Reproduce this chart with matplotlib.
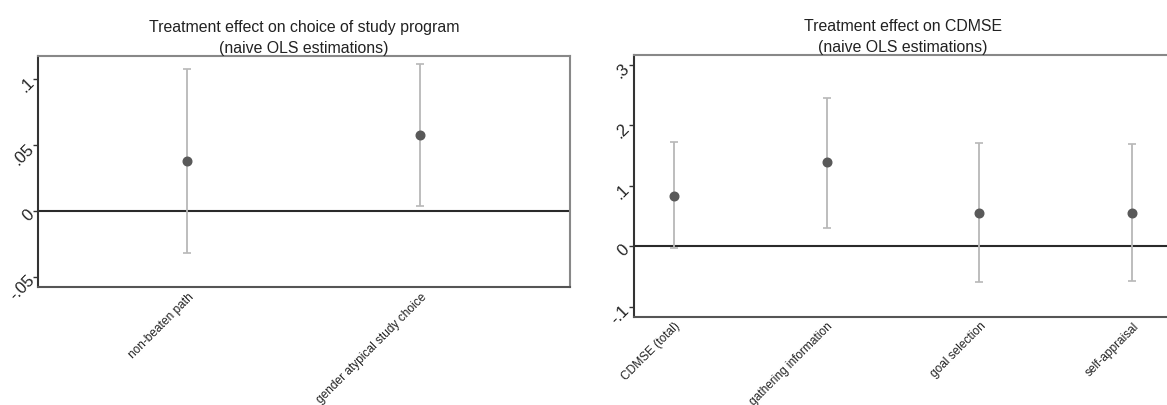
import numpy as np
import matplotlib
matplotlib.use("Agg")
import matplotlib.pyplot as plt

plt.rcParams['font.family'] = ['Liberation Sans', 'DejaVu Sans']

# study program outcomes
prog_labels = ["non-beaten path", "gender atypical study choice"]
prog_coef = [0.038, 0.058]
prog_lo = [-0.032, 0.0035]
prog_hi = [0.108, 0.112]

# CDMSE outcomes
cdmse_labels = ["CDMSE (total)", "gathering information", "goal selection", "self-appraisal"]
cdmse_coef = [0.084, 0.139, 0.056, 0.056]
cdmse_lo = [-0.003, 0.031, -0.058, -0.057]
cdmse_hi = [0.173, 0.245, 0.170, 0.169]

W, H = 1167, 406
fig = plt.figure(figsize=(W / 100, H / 100), dpi=100)


def px_axes(x0, y0, x1, y1):
    # pixel box (top-left origin) -> figure fraction
    return fig.add_axes([x0 / W, 1 - y1 / H, (x1 - x0) / W, (y1 - y0) / H])


def panel(ax, labels, coef, lo, hi, title, yticks, yticklabels, ylim, xlim):
    x = np.arange(1, len(labels) + 1)
    coef = np.array(coef)
    err = [coef - np.array(lo), np.array(hi) - coef]
    ax.axhline(0, color="#2a2a2a", lw=1.5, zorder=1)
    ax.errorbar(x, coef, yerr=err, fmt="none", ecolor="#b8b8b8", elinewidth=1.3,
                capsize=2.8, capthick=1.2, zorder=2)
    ax.plot(x, coef, "o", color="#595959", ms=6.2, zorder=3)
    ax.set_xlim(*xlim)
    ax.set_ylim(*ylim)
    ax.set_xticks(x)
    ax.set_xticklabels(labels, rotation=45, ha="right", va="top",
                       rotation_mode="anchor", fontsize=8.6, color="#222222")
    ax.tick_params(axis="x", length=0, pad=2)
    ax.set_yticks(yticks)
    ax.set_yticklabels(yticklabels, rotation=45, ha="right", va="center",
                       rotation_mode="anchor", fontsize=12, color="#222222")
    ax.tick_params(axis="y", length=3.6, width=1, color="#333333", pad=1)
    for s in ax.spines.values():
        s.set_color("#888888")
        s.set_linewidth(1.5)
    ax.spines["left"].set_color("#333333")
    ax.spines["bottom"].set_color("#555555")
    ax.set_title(title, fontsize=11.4, color="#222222", pad=3, linespacing=1.5)


ax1 = px_axes(38.3, 56.7, 569.5, 288.3)
panel(ax1, prog_labels, prog_coef, prog_lo, prog_hi,
      "Treatment effect on choice of study program\n(naive OLS estimations)",
      [-0.05, 0, 0.05, 0.1], ["-.05", "0", ".05", ".1"],
      (-0.058, 0.118), (0.36, 2.64))

ax2 = px_axes(633.5, 56, 1172.5, 317.7)
panel(ax2, cdmse_labels, cdmse_coef, cdmse_lo, cdmse_hi,
      "Treatment effect on CDMSE\n(naive OLS estimations)",
      [-0.1, 0, 0.1, 0.2, 0.3], ["-.1", "0", ".1", ".2", ".3"],
      (-0.116, 0.316), (0.738, 4.262))

fig.savefig("out.png", dpi=100, facecolor="white")
